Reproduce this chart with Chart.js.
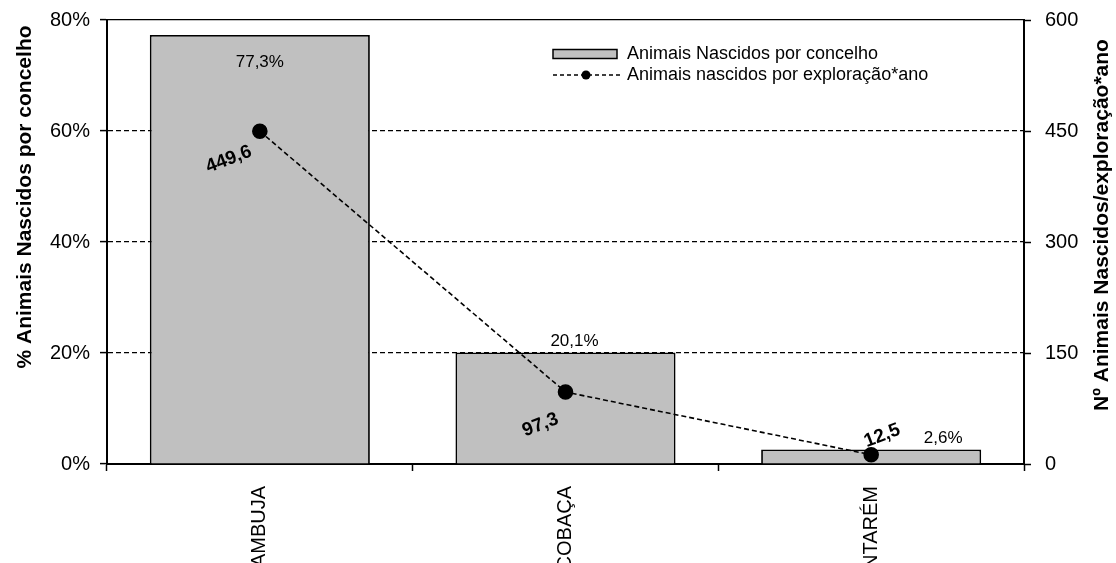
<!DOCTYPE html>
<html>
<head>
<meta charset="utf-8">
<script src="https://cdn.jsdelivr.net/npm/chart.js@4.4.0/dist/chart.umd.min.js"></script>
<style>
  html, body { margin: 0; padding: 0; background: #fff; }
</style>
</head>
<body>
<canvas id="chart" width="1116" height="563"></canvas>
<script>
// ====== Dados ======
const concelhos = ["AZAMBUJA", "ALCOBAÇA", "SANTARÉM"];
const pctNascidos = [77.3, 20.1, 2.6];              // % animais nascidos por concelho
const nascidosExploracao = [449.6, 97.3, 12.5];     // animais nascidos por exploração*ano
const pctTicks = [0, 20, 40, 60, 80];
const nTicks = [0, 150, 300, 450, 600];

const FONT = '"Liberation Sans", Arial, sans-serif';

function fmtNum(v) {
  return v.toFixed(1).replace(".", ",");
}

// largura fixa dos eixos, sem margem extra
function fixWidth(w) {
  return s => { s.width = w; s.paddingTop = 0; s.paddingBottom = 0; };
}

// ====== Rótulos, legenda e títulos dos eixos ======
const extras = {
  id: "extras",
  afterDatasetsDraw(chart) {
    const ctx = chart.ctx;

    // rótulos das barras (posições como no original)
    const barOff = [[0, 27], [9, -11], [72, -11]];
    const bars = chart.getDatasetMeta(0).data;
    ctx.save();
    ctx.fillStyle = "#000";
    ctx.font = "17px " + FONT;
    ctx.textAlign = "center";
    ctx.textBaseline = "middle";
    bars.forEach((b, i) => {
      ctx.fillText(fmtNum(pctNascidos[i]) + "%", b.x + barOff[i][0], b.y + barOff[i][1]);
    });

    // rótulos da linha, inclinados
    const lineOff = [[-31, 28], [-25, 33], [11, -19]];
    const pts = chart.getDatasetMeta(1).data;
    ctx.font = "bold 19px " + FONT;
    pts.forEach((p, i) => {
      ctx.save();
      ctx.translate(p.x + lineOff[i][0], p.y + lineOff[i][1]);
      ctx.rotate(-21 * Math.PI / 180);
      ctx.fillText(fmtNum(nascidosExploracao[i]), 0, 0);
      ctx.restore();
    });
    ctx.restore();
  },
  afterDraw(chart) {
    const ctx = chart.ctx;
    const area = chart.chartArea;
    const ds = chart.data.datasets;

    // legenda
    const lx = area.left + 446;
    const ly1 = area.top + 34;
    const ly2 = area.top + 55;
    ctx.save();
    ctx.fillStyle = "#c0c0c0";
    ctx.strokeStyle = "#000";
    ctx.lineWidth = 1.5;
    ctx.fillRect(lx, ly1 - 4.5, 64, 9);
    ctx.strokeRect(lx, ly1 - 4.5, 64, 9);

    ctx.setLineDash([4, 3]);
    ctx.lineWidth = 1.4;
    ctx.beginPath();
    ctx.moveTo(lx, ly2);
    ctx.lineTo(lx + 67, ly2);
    ctx.stroke();
    ctx.setLineDash([]);
    ctx.fillStyle = "#000";
    ctx.beginPath();
    ctx.arc(lx + 33, ly2, 4.5, 0, Math.PI * 2);
    ctx.fill();

    ctx.font = "18px " + FONT;
    ctx.textAlign = "left";
    ctx.textBaseline = "middle";
    ctx.fillText(ds[0].label, lx + 74, ly1);
    ctx.fillText(ds[1].label, lx + 74, ly2);

    // títulos dos eixos
    ctx.font = "bold 21px " + FONT;
    ctx.textAlign = "center";
    ctx.save();
    ctx.translate(25, 197);
    ctx.rotate(-Math.PI / 2);
    ctx.fillText("% Animais Nascidos por concelho", 0, 0);
    ctx.restore();
    ctx.save();
    ctx.translate(1102, 225);
    ctx.rotate(-Math.PI / 2);
    ctx.fillText("Nº Animais Nascidos/exploração*ano", 0, 0);
    ctx.restore();
    ctx.restore();
  }
};

// ====== Gráfico ======
const chart = new Chart(document.getElementById("chart").getContext("2d"), {
  data: {
    labels: concelhos,
    datasets: [
      {
        type: "bar",
        label: "Animais Nascidos por concelho",
        data: pctNascidos,
        yAxisID: "yPct",
        backgroundColor: "#c0c0c0",
        borderColor: "#000",
        borderWidth: 1.8,
        barPercentage: 0.72,
        categoryPercentage: 1,
        order: 2
      },
      {
        type: "line",
        label: "Animais nascidos por exploração*ano",
        data: nascidosExploracao,
        yAxisID: "yN",
        borderColor: "#000",
        borderWidth: 1.6,
        borderDash: [5, 3],
        pointRadius: 7,
        pointBackgroundColor: "#000",
        pointBorderColor: "#000",
        fill: false,
        tension: 0,
        order: 1
      }
    ]
  },
  options: {
    responsive: false,
    animation: false,
    devicePixelRatio: 1,
    layout: { padding: { top: 20, left: 0, right: 0, bottom: 0 } },
    plugins: {
      legend: { display: false },
      tooltip: { enabled: false }
    },
    scales: {
      x: {
        offset: true,
        afterFit: s => { s.height = 99; s.paddingLeft = 0; s.paddingRight = 0; },
        grid: {
          offset: true,
          drawOnChartArea: false,
          color: "#000",
          tickColor: "#000",
          tickLength: 7,
          tickWidth: 1.5
        },
        border: { color: "#000", width: 2 },
        ticks: {
          color: "#000",
          font: { family: FONT, size: 20 },
          minRotation: 90,
          maxRotation: 90,
          autoSkip: false,
          padding: 15
        }
      },
      yPct: {
        position: "left",
        min: pctTicks[0],
        max: pctTicks[pctTicks.length - 1],
        afterFit: fixWidth(107),
        grid: {
          color: "#000",
          lineWidth: 1.2,
          tickColor: "#000",
          tickLength: 7,
          tickWidth: 1.5,
          tickBorderDash: []
        },
        border: {
          color: "#000",
          width: 2,
          dash: c => (c.tick && c.tick.value === pctTicks[pctTicks.length - 1]) ? [] : [5, 3]
        },
        ticks: {
          stepSize: pctTicks[1] - pctTicks[0],
          color: "#000",
          font: { family: FONT, size: 20 },
          padding: 10,
          callback: v => v + "%"
        }
      },
      yN: {
        position: "right",
        min: nTicks[0],
        max: nTicks[nTicks.length - 1],
        afterFit: fixWidth(92),
        grid: {
          drawOnChartArea: false,
          tickColor: "#000",
          tickLength: 7,
          tickWidth: 1.5
        },
        border: { color: "#000", width: 2 },
        ticks: {
          stepSize: nTicks[1] - nTicks[0],
          color: "#000",
          font: { family: FONT, size: 20 },
          padding: 14
        }
      }
    }
  },
  plugins: [extras]
});
</script>
</body>
</html>
